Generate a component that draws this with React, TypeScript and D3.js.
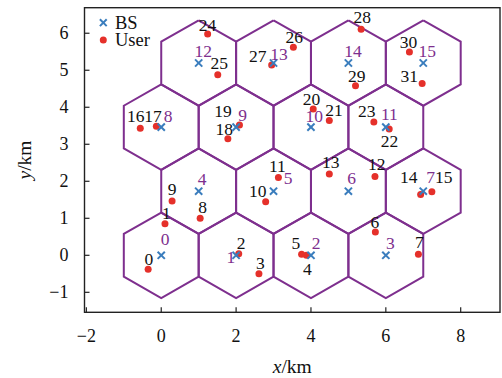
import React from "react";
import * as d3 from "d3";

// Base station ids and centres (km)
const bsIds = [0, 1, 2, 3, 4, 5, 6, 7, 8, 9, 10, 11, 12, 13, 14, 15];
const bsX = [0, 2, 4, 6, 1, 3, 5, 7, 0, 2, 4, 6, 1, 3, 5, 7];
const bsY = [0, 0, 0, 0, 1.732, 1.732, 1.732, 1.732, 3.464, 3.464, 3.464, 3.464, 5.196, 5.196, 5.196, 5.196];

// Users (km)
const userIds = [0, 1, 2, 3, 4, 5, 6, 7, 8, 9, 10, 11, 12, 13, 14, 15, 16, 17, 18, 19, 20, 21, 22, 23, 24, 25, 26, 27, 28, 29, 30, 31];
const userX = [-0.35, 0.1, 2.07, 2.61, 3.88, 3.75, 5.72, 6.87, 1.04, 0.29, 2.79, 3.13, 5.71, 4.49, 6.93, 7.23, -0.56, -0.13, 1.78, 2.09, 4.06, 4.49, 6.09, 5.68, 1.24, 1.51, 3.53, 2.95, 5.34, 5.19, 6.63, 6.97];
const userY = [-0.38, 0.85, 0.04, -0.5, 0.0, 0.03, 0.63, 0.03, 1.0, 1.47, 1.45, 2.1, 2.13, 2.2, 1.64, 1.72, 3.43, 3.49, 3.15, 3.52, 3.95, 3.64, 3.41, 3.6, 5.98, 4.88, 5.62, 5.14, 6.11, 4.58, 5.49, 4.64];

const xTicks = [-2, 0, 2, 4, 6, 8];
const yTicks = [-1, 0, 1, 2, 3, 4, 5, 6];
const legendLabels = ["BS", "User"];

// label placement offsets (px), annotation layout
const userLabelOff: Record<number, [number, number]> = {
  0: [0.7, -4.5], 1: [1.3, -5], 2: [2.3, -4.7], 3: [1.5, -5], 4: [1, 19.3], 5: [-5.7, -5.3],
  6: [-0.6, -4], 7: [1, -5.7], 8: [2.5, -5.3], 9: [0, -6], 10: [-8, -4.4], 11: [-1, -6],
  12: [1.7, -6.3], 13: [1.5, -5.4], 14: [-12, -11.4], 15: [12, -8.4], 16: [-4.5, -6.6],
  17: [-3.3, -4.3], 18: [-3.7, -4], 19: [-16.5, -8.3], 20: [-1.6, -4.3], 21: [4.7, -5],
  22: [0.4, 17.7], 23: [-7, -5.3], 24: [-0.2, -3.3], 25: [1.6, -5.4], 26: [0.9, -4],
  27: [-14, -3.3], 28: [1.2, -6], 29: [1.3, -4], 30: [-0.9, -4.6], 31: [-13, -2],
};
const bsLabelOff: Record<number, [number, number]> = {
  0: [4, -10.3], 1: [-5.2, 8], 2: [5.2, -6.3], 3: [4.5, -6], 4: [3.5, -6], 5: [14.5, -7],
  6: [3.2, -7], 7: [7.3, -8], 8: [6.8, -5.5], 9: [6.5, -6.2], 10: [3.2, -5.5], 11: [3.5, -7.2],
  12: [4.5, -6.3], 13: [5.5, -3], 14: [4.5, -6.3], 15: [4, -6.3],
};

const W = 502, H = 378;
const L = 84.5, R = 500, T = 7.7, B = 312.3;
const PURPLE = "#7E2F8E";
const BLUE = "#3A7DBD";
const RED = "#E5302A";
const FONT = "'Liberation Serif', 'Times New Roman', serif";

export default function App() {
  const x = d3.scaleLinear().domain([-2.05, 9.05]).range([L, R]);
  const y = d3.scaleLinear().domain([-1.54, 6.69]).range([B, T]);
  const rHex = 2 / Math.sqrt(3);
  const line = d3.line<[number, number]>().x((d) => x(d[0])).y((d) => y(d[1]));
  const hexPath = (cx: number, cy: number) => {
    const pts: [number, number][] = d3.range(7).map((i) => {
      const a = ((90 + 60 * i) * Math.PI) / 180;
      return [cx + rHex * Math.cos(a), cy + rHex * Math.sin(a)];
    });
    return line(pts) || "";
  };
  const fmt = d3.format("d");
  const cross = (cx: number, cy: number, s: number, key: string) => (
    <g key={key} stroke={BLUE} strokeWidth={2}>
      <line x1={cx - s} y1={cy - s} x2={cx + s} y2={cy + s} />
      <line x1={cx - s} y1={cy + s} x2={cx + s} y2={cy - s} />
    </g>
  );
  return (
    <svg width={W} height={H} style={{ position: "absolute", left: 0, top: 0, background: "#fff" }} fontFamily={FONT}>
      <rect x={0} y={0} width={W} height={H} fill="#fff" />
      {/* hexagons */}
      {bsIds.map((id, i) => (
        <path key={"h" + id} d={hexPath(bsX[i], bsY[i])} fill="none" stroke={PURPLE} strokeWidth={2} />
      ))}
      {/* users */}
      {userIds.map((id, i) => (
        <circle key={"u" + id} cx={x(userX[i])} cy={y(userY[i])} r={3.5} fill={RED} />
      ))}
      {/* base stations */}
      {bsIds.map((id, i) => cross(x(bsX[i]), y(bsY[i]), 3.6, "b" + id))}
      {/* user labels */}
      {userIds.map((id, i) => {
        const o = userLabelOff[id] || [0, -5];
        return (
          <text key={"ut" + id} x={x(userX[i]) + o[0]} y={y(userY[i]) + o[1]} fontSize={17.5} textAnchor="middle" fill="#111">
            {id}
          </text>
        );
      })}
      {/* bs labels */}
      {bsIds.map((id, i) => {
        const o = bsLabelOff[id] || [4, -6];
        return (
          <text key={"bt" + id} x={x(bsX[i]) + o[0]} y={y(bsY[i]) + o[1]} fontSize={17.5} textAnchor="middle" fill={PURPLE}>
            {id}
          </text>
        );
      })}
      {/* frame */}
      <rect x={L} y={T} width={R - L} height={B - T} fill="none" stroke="#222" strokeWidth={1.4} />
      {/* ticks */}
      {xTicks.map((t) => (
        <g key={"xt" + t}>
          <line x1={x(t)} x2={x(t)} y1={B} y2={B - 5} stroke="#222" strokeWidth={1.2} />
          <text x={x(t)} y={341.7} fontSize={18} textAnchor="middle" fill="#111">
            {fmt(t)}
          </text>
        </g>
      ))}
      {yTicks.map((t) => (
        <g key={"yt" + t}>
          <line x1={L} x2={L + 5} y1={y(t)} y2={y(t)} stroke="#222" strokeWidth={1.2} />
          <text x={68.5} y={y(t) + 6} fontSize={18} textAnchor="end" fill="#111">
            {fmt(t)}
          </text>
        </g>
      ))}
      {/* axis labels */}
      <text x={(L + R) / 2} y={373} fontSize={19.5} textAnchor="middle" fill="#111">
        <tspan fontStyle="italic">x</tspan>/km
      </text>
      <text transform={`translate(31,${(T + B) / 2}) rotate(-90)`} fontSize={19.5} textAnchor="middle" fill="#111">
        <tspan fontStyle="italic">y</tspan>/km
      </text>
      {/* legend */}
      {cross(103.3, 22.7, 3.4, "lg")}
      <text x={115} y={28.8} fontSize={18.5} fill="#111">{legendLabels[0]}</text>
      <circle cx={103.3} cy={40} r={3.5} fill={RED} />
      <text x={115} y={45.5} fontSize={18.5} fill="#111">{legendLabels[1]}</text>
    </svg>
  );
}
